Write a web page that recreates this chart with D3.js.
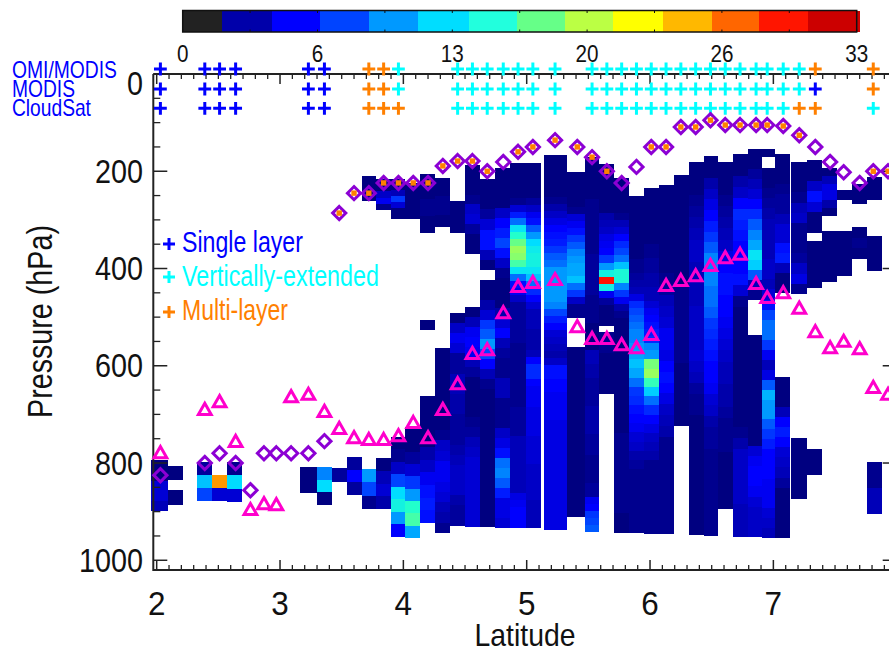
<!DOCTYPE html>
<html><head><meta charset="utf-8">
<style>html,body{margin:0;padding:0;background:#fff}svg{display:block}text{font-family:"Liberation Sans",Arial,sans-serif;fill:#111}</style>
<script src="https://cdn.jsdelivr.net/npm/d3@7/dist/d3.min.js"></script>
</head><body><svg id="c" width="889" height="653"></svg>
<script>
// colour bar
const barEdges=[0,1.93,4.38,6.73,9.13,11.5,14,16.35,18.7,21.05,23.5,25.9,28.2,30.6,33.15];
const barColors=["#222222","#0000aa","#0000ff","#0044ff","#0099ff","#00ddff","#22ffdd","#66ff88","#bbff44","#ffff00","#ffb800","#ff6600","#ff1500","#cc0000"];
const barLabels=[0,6,13,20,26,33];
const barLabelAt=[0,6.6,13.2,19.8,26.4,33];
const heatStops=[1,3,5.5,8,10,12.5,15,17,19.5,22,25,27,29,32];
const heatColors=["#000080","#0000b8","#0000ff","#0044ff","#0099ff","#00ddff","#22ffcc","#66ff88","#bbff44","#ffff00","#ff9900","#ff6600","#ff1500","#cc0000"];
// columns of the curtain
const colLeft=[1.954,2.092,2.327,2.448,2.570,3.162,3.300,3.421,3.543,3.664,3.778,3.899,4.013,4.135,4.256,4.378,4.499,4.621,4.743,4.865,4.994,5.140,5.327,5.473,5.586,5.708,5.830,5.951,6.073,6.195,6.316,6.438,6.551,6.673,6.795,6.908,7.014,7.143,7.273,7.392,7.516,7.638,7.760];
const colRight=[2.092,2.213,2.448,2.570,2.691,3.300,3.421,3.543,3.664,3.778,3.899,4.013,4.135,4.256,4.378,4.499,4.621,4.743,4.865,4.994,5.116,5.327,5.473,5.586,5.708,5.830,5.951,6.073,6.195,6.316,6.438,6.551,6.673,6.795,6.908,7.014,7.135,7.273,7.392,7.516,7.638,7.760,7.881];
const segCol=[0,1,1,2,3,4,5,6,7,8,9,9,10,10,11,11,12,12,13,13,13,14,14,15,15,16,16,17,17,18,19,19,20,20,21,21,22,22,23,23,24,24,25,25,26,26,27,27,28,28,29,30,30,31,31,32,32,33,33,34,34,35,35,35,36,36,37,37,38,38,38,39,39,40,40,41,41,42,42,42];
const segTop=[794,806,855,798,825,798,808,808,810,788,812,210,790,216,746,216,726,224,663,206,506,563,214,491,261,479,187,424,216,193,183,568,183,568,167,570,202,561,171,568,185,531,214,574,251,568,234,568,228,568,208,181,568,169,568,181,568,165,568,154,537,154,193,568,165,623,181,749,177,343,771,193,323,239,323,226,315,212,333,798];
const segBottom=[899,835,886,878,878,880,862,886,839,866,895,261,895,280,952,298,954,298,923,327,527,944,315,929,327,931,370,931,403,934,568,934,568,934,570,938,502,911,568,942,518,658,574,944,568,944,568,946,568,946,724,568,948,568,950,568,895,568,952,465,952,171,568,954,450,954,452,874,327,440,825,292,428,259,416,267,380,259,405,905];
const segCells=[
[1,1,4,4,3],[1],[1],[2,11.5,8],[25,4],[1.5,12.5,4],[1,1],[9.5,12.5,1],[2],[2,5.5,2],
[10,8,1.5],[1,1],[1,3,4,2.5],[1,1,3.5,5,1.5],[1,1.5,3.5,8,12.5,14,10,5.5],[1,1,3,7.5,4,1,1],
[1,1,2,4,7.5,10,15,16,10.5],[1,1,1,1],[1,1,1,1,2.5,3.5,5,6,6.5,6],[1,1,1,1.5,1.5,1,1],[1],
[1,1,1,1,1,1,1,1,1.5,3.5,4,5,5,4.5,4,3,2.5,1.5],[1,1,1,1.5,1.5,1.5,1,1],
[1,3.5,5,4,2,2,3,3,2.5,2.5,2,2,2,2.5,3,3.5,3.5,3.5,2.5,2,2],[1,1,1],
[1,3,5,5.5,5,3,2,1,1,1,1,1.5,2,3,3.5,4,4,4,4,4,4,4],[1,1,1,1.5,3.5,4,2,1,1],
[1,1,2.5,4,7.5,8.5,10,8,5.5,3,1.5,1,1,1,1,1,1,1,1,1,1,1,1,1,1],[1,1,1,2,4,6,6,3,1],
[1,1,1,1,3.5,5.5,6.5,8,6,3.5,1.5,1,1,1,2.5,4,5.5,3,2,1.5,1.5,3,3,1.5,1.5,1.5,3.5,4.5,6,9,9.5,8.5,6.5,4.5,4.5,4],
[1,1,1,1,1,1.5,4,6.5,9,13,15,17,18.5,18,16,13,9,6,5,3.5,2,2,2,2,2,2,1.5],
[1.5,1.5,1.5,1.5,1.5,1.5,1.5,1.5,2,2,2,2,3,3,3,3,3,3,3,3,4.5,5,5.5,5.5,5.5],
[1,1,1,1,1,2,3.5,5,6,8.5,10,12.5,13.5,14,14,13,11.5,9,7,5.5,4,3,3,3,2.5,2.5,2.5],
[3,5.5,7,7,5.5,5,5,5,4.5,4.5,4.5,4.5,4,4,4,4,3.5,3.5,3.5,3.5,3.5,3,3,3,3],
[1,1,1,1,1,1,1.5,2.5,3.5,4.5,5.5,6,6.5,7.5,8.5,9,10,10,10,10,10,9.5,8,6.5,5.5,4,3.5,3],
[2.5,3.5,6,6,5.5,5.5,5,5,5,5,4.5,4.5,4.5,4.5,4.5,4.5,4.5,4.5,4.5,4.5,4.5,4.5,4.5,4.5,4.5,4.5],
[1,1,1,1,1,1.5,4,5,6,7.5,8.5,9.5,10,10.5,10.5,11.5,9,7.5,3.5,1.5,1.5],[1],
[1,1,1,1,1,1,1.5,1.5,1.5,1.5,1.5,1.5,1.5,1.5,2,2,2,2,2,2,1.5,1.5,1.5,1.5,1,1,1,1],
[3,3,2.5,2.5,2,2,2,2,2.5,2.5,2.5,2.5,2,2,2,1.5,1.5,1.5,1.5,2,2,5,5.5,7.5,8,8.5],
[1,1,1,1,1,1,1,2.5,3,3.5,4.5,5,5.5,7.5,10,14,29,14,5,2,1,1,1],[1.5,1,1],
[1,1,1,1,1,1.5,3,4,5.5,7,8,9,11.5,14.5,14.5,9.5,7.5,5,2.5,1.5,1,1,1,1,1],[1,1,1,1,1.5,1.5,1.5,1.5,1],
[1,1,1,1,1,1,1,1,1,1.5,1.5,2,2.5,3,4.5,7,8,8.5,9,9.5,9.5,10],
[10.5,11.5,10.5,9,7.5,7,6,5.5,5,4,3.5,2.5,2,1.5,1.5,1.5,1.5,1.5,1.5,1.5],
[1,1,1,1,1,1,1,1,1.5,1.5,2,2,2.5,2.5,3,3,4,5,5.5,6,6.5,7,9.5],
[10,17.5,18.5,15.5,12,9,7,5.5,4.5,3.5,3,2.5,1.5,1.5,1.5,1.5,1.5,1.5,1.5,1.5],
[1,1,1,1,1,1,1,1,1.5,2,3,3.5,4,5,5],
[4.5,5.5,6,5.5,4.5,3.5,3,2.5,1.5,1.5,1.5,1.5,1.5,1.5,1.5,1.5,1.5],
[1,1,1,1,1,1,1,1.5,1.5,1.5,1.5,1.5,1,1,1,1],
[1,1,1,1.5,2,2.5,3,3.5,3.5,3,3,3,3,3.5,3.5,3.5,3.5],
[4,3.5,3,2,1.5,1.5,1,1,1,1,1,1,1,1,1,1,1],
[1,1,2.5,3.5,4.5,5.5,6.5,7.5,8.5,9.5,9.5,9.5,9,9,8.5,7.5,7,6.5],
[6,5.5,5.5,5,4,3.5,2.5,2,2,1.5,1.5,1.5,1.5,1.5,1.5,1.5,1.5],
[1,1,1,1.5,2,2.5,3,3.5,4.5,5.5,6,6,5.5,5.5,5,4.5,4],
[3.5,3,3,2.5,2.5,2,1.5,1.5,1.5,1,1,1,1,1],
[1,1,2.5,3.5,5.5,7,6.5,6,5.5,5.5,5.5,6,4,1.5,1,1,1,1],
[1,1,1,1,1,1,1,1.5,2.5,3.5,3.5,3.5,3.5,3.5,3,3,3],
[1,1,2,3,4,5.5,7,8.5,9.5,10.5,13,12,8.5,3,1.5],
[1,1,1,1,1,1,1,1,1,1,1,4,5,5.5,5.5,5,4,3.5,3.5,3.5],
[1],[1,1,1.5,2,2.5,3,3,3,3,3.5,3.5,3,4,6,8,9,9,7.5],
[5,3,4.5,8.5,11,10,10,8.5,7.5,6.5,5.5,5.5,5.5,5,5,5,4,3.5,3],
[1,1,1,1.5,2,2,3,4,4,6,6.5,3,1,1],[1,1,1,3,5.5,6.5,5.5,4,3.5,3,2,1,1,1,1,1],
[1,1,1,1.5,3,3.5,1.5,1.5,1.5,2,3.5,4.5,1.5],[1,1],
[1,1,3.5,6,4,1,1],[1,1,1,1],[1],
[1,3,4.5,4.5,2.5,1],[1],[1],[1],[1],[1,1.5,1],[1],[1],[1.5,3]
];
// scene latitudes and retrieved pressures
const sceneLat=[2.03,2.39,2.51,2.64,2.76,2.87,2.97,3.09,3.23,3.36,3.48,3.60,3.72,3.84,3.96,4.08,4.20,4.32,4.44,4.56,4.68,4.81,4.93,5.05,5.23,5.41,5.53,5.65,5.77,5.89,6.01,6.13,6.25,6.37,6.49,6.61,6.73,6.86,6.95,7.08,7.21,7.34,7.46,7.57,7.70,7.81,7.93];
const triPressure=[778,689,673,755,895,883,885,663,658,693,728,747,751,751,743,716,747,689,636,574,566,490,436,428,422,519,543,543,556,562,535,434,424,414,393,377,370,430,459,449,481,529,562,549,564,644,658];
const diaPressure=[825,800,780,800,856,780,780,780,780,755,286,245,245,224,224,224,224,189,179,179,200,181,160,150,136,150,171,200,224,191,150,150,109,109,95,105,105,105,105,107,126,150,181,202,224,200,200];
const dotScene=[10,11,12,13,14,15,16,17,18,19,20,22,23,24,25,26,27,30,31,32,33,34,35,36,37,38,39,40,45,46];
// cloud-type marks along the top
const rowNames=["OMI/MODIS","MODIS","CloudSat"];
const plusScene=[0,1,2,3,8,9,12,13,14,18,19,20,21,22,23,24,26,27,28,29,30,31,32,33,34,35,36,37,38,39,40,41,45];
const plusOmi=[0,0,0,0,0,0,2,2,1,1,1,1,1,1,1,1,1,1,1,1,1,1,1,1,1,1,1,1,1,1,1,2,2];
const plusModis=[0,0,0,0,0,0,2,2,1,1,1,1,1,1,1,1,1,1,1,1,1,1,1,1,1,1,1,1,1,1,1,0,2];
const plusCloudSat=[0,0,0,0,0,0,2,2,2,1,1,1,1,1,1,1,1,1,1,1,1,1,1,1,1,1,1,1,1,1,2,2,1];
const typeNames=["Single layer","Vertically-extended","Multi-layer"];
const typeColors=["#0000ff","#00ffff","#ff8000"];
const xTicks=[2,3,4,5,6,7];
const yTicks=[0,200,400,600,800,1000];

const svg=d3.select("#c");
const x=d3.scaleLinear().domain([1.9725,8]).range([153.3,896.7]);
const y=d3.scaleLinear().domain([0,1020]).range([74,570]);
const bar=d3.scaleLinear().domain([0,33]).range([182.7,856.7]);
const heat=d3.scaleLinear().domain(heatStops).range(heatColors).clamp(true);

// curtain
const cells=[];
segCells.forEach((v,s)=>{const h=(segBottom[s]-segTop[s])/v.length;
  v.forEach((val,i)=>cells.push({c:segCol[s],a:segTop[s]+i*h,b:segTop[s]+(i+1)*h,val}));});
svg.append("g").attr("shape-rendering","crispEdges").selectAll("rect").data(cells).join("rect")
  .attr("x",d=>Math.round(x(colLeft[d.c]))).attr("width",d=>Math.round(x(colRight[d.c]))-Math.round(x(colLeft[d.c])))
  .attr("y",d=>Math.round(y(d.a))).attr("height",d=>Math.round(y(d.b))-Math.round(y(d.a)))
  .attr("fill",d=>heat(d.val));

// axes
function frame(g,len,side,sc,vals,minorVals){
  g.attr("stroke","#222");
  minorVals.forEach(v=>side(g,sc(v),len/2,1.3));
  vals.forEach(v=>side(g,sc(v),len,1.5));
}
const ax=svg.append("g");
const minorX=d3.range(20,80).map(d=>d/10).filter(d=>d%1!==0);
const minorY=d3.range(0,21).map(d=>d*50).filter(d=>d%200!==0);
function vTick(y0,dir){return (g,px,l,w)=>g.append("line").attr("x1",px).attr("x2",px).attr("y1",y0).attr("y2",y0+dir*l).attr("stroke-width",w);}
function hTick(x0,dir){return (g,py,l,w)=>g.append("line").attr("y1",py).attr("y2",py).attr("x1",x0).attr("x2",x0+dir*l).attr("stroke-width",w);}
frame(ax.append("g"),10,vTick(570,-1),x,xTicks.concat([8]),minorX);
frame(ax.append("g"),10,vTick(74,1),x,xTicks.concat([8]),minorX);
frame(ax.append("g"),14,hTick(153.3,1),y,yTicks,minorY);
frame(ax.append("g"),14,hTick(896.7,-1),y,yTicks,minorY);
ax.append("path").attr("d",`M153.3,74V570H889M153.3,74H889`).attr("fill","none").attr("stroke","#222").attr("stroke-width",2);

// helper: real text, condensed horizontally to the measured length of the reference
function label(txt,px,py,size,len,anchor,fill,rot){
  const t=svg.append("text").text(txt).attr("font-size",size).attr("text-anchor",anchor||"start");
  if(fill)t.style("fill",fill);
  const k=len/t.node().getComputedTextLength();
  t.attr("transform",`translate(${px},${py}) rotate(${rot||0}) scale(${k},1)`);
  return t;
}
xTicks.forEach(v=>label(v,x(v),615,34,17.5,"middle"));
yTicks.forEach(v=>label(v,143,v===0?95:y(v)+11.5,33,String(v).length*16,"end"));
label("Latitude",525,646,32,101,"middle");
label("Pressure (hPa)",52,418,36,193,"start",null,-90);

// colour bar
svg.append("g").attr("shape-rendering","crispEdges").selectAll("rect").data(barColors).join("rect")
  .attr("x",(d,i)=>bar(barEdges[i])).attr("width",(d,i)=>bar(barEdges[i+1])-bar(barEdges[i]))
  .attr("y",10.5).attr("height",21.5).attr("fill",d=>d);
svg.append("rect").attr("x",bar(0)).attr("y",10.5).attr("width",bar(33)-bar(0)).attr("height",21.5).attr("fill","none").attr("stroke","#111").attr("stroke-width",1.5);
d3.range(0,11).forEach(i=>{const v=i*3.3;
  svg.append("line").attr("x1",bar(v)).attr("x2",bar(v)).attr("y1",10.5).attr("y2",13).attr("stroke","#111");
  svg.append("line").attr("x1",bar(v)).attr("x2",bar(v)).attr("y1",29.5).attr("y2",32).attr("stroke","#111");});
barLabels.forEach((v,i)=>label(v,bar(barLabelAt[i]),61.5,24,String(v).length*11.5,"middle"));

// row labels
const rowLen=[105,63,79],rowBase=[78,96.7,115.7],plusY=[69,89,108.3];
rowNames.forEach((n,i)=>label(n,12,rowBase[i],24,rowLen[i],"start","#0000ff"));
function plus(g,cx,cy,r,col){g.append("path").attr("d",`M${cx-r},${cy}H${cx+r}M${cx},${cy-r}V${cy+r}`).attr("stroke",col).attr("stroke-width",3).attr("fill","none");}
[plusOmi,plusModis,plusCloudSat].forEach((row,r)=>{const g=svg.append("g");
  row.forEach((t,i)=>plus(g,x(sceneLat[plusScene[i]]),plusY[r],6.4,typeColors[t]));});

// legend
const legBase=[251.7,285.7,320],legPlus=[244,277,312],legLen=[121,197,106];
typeNames.forEach((n,i)=>{plus(svg,169,legPlus[i],6,typeColors[i]);label(n,182,legBase[i],30,legLen[i],"start",typeColors[i]);});

// pressure markers
svg.append("g").selectAll("path").data(diaPressure).join("path")
  .attr("transform",(d,i)=>`translate(${x(sceneLat[i])},${y(d)})`)
  .attr("d","M0,-6.6L6.6,0L0,6.6L-6.6,0Z").attr("fill","none").attr("stroke","#8c00d4").attr("stroke-width",3);
svg.append("g").selectAll("rect").data(dotScene).join("rect")
  .attr("x",d=>x(sceneLat[d])-2.7).attr("y",d=>y(diaPressure[d])-2.7).attr("width",5.4).attr("height",5.4).attr("fill","#ff8000");
svg.append("g").selectAll("path").data(triPressure).join("path")
  .attr("transform",(d,i)=>`translate(${x(sceneLat[i])},${y(d)})`)
  .attr("d","M0,-5.8L6.4,5.4L-6.4,5.4Z").attr("fill","none").attr("stroke","#ff00cc").attr("stroke-width",3);
</script></body></html>
